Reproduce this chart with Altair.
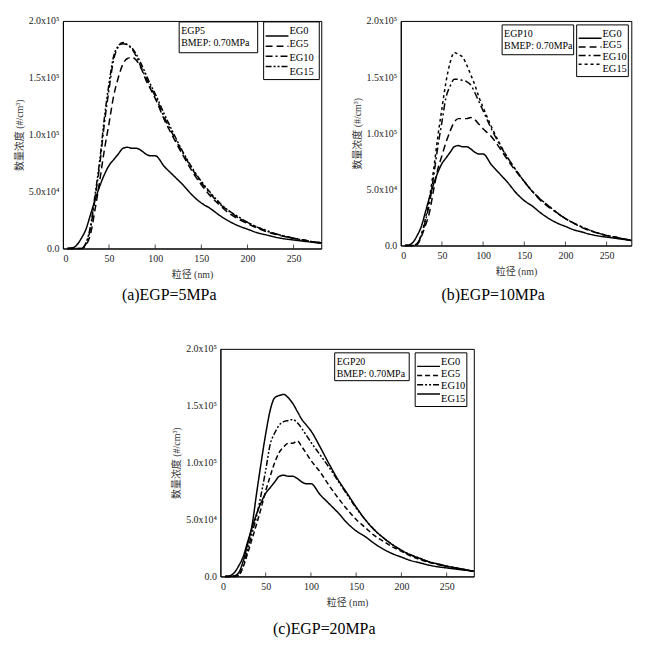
import altair as alt
import pandas as pd

FONT = "Liberation Serif, Noto Sans CJK SC, serif"

# particle size (nm)
SIZES = [5, 10, 15, 20, 25, 30, 35, 40, 45, 50, 55, 60, 65, 70, 75, 80, 85, 90, 95, 100,
         110, 120, 130, 140, 150, 160, 170, 180, 190, 200, 210, 220, 230, 240, 250, 260, 270, 280]

# number concentration, in units of 10^4 #/cm3
EG0 = [0, 0.05, 0.3, 0.9, 1.7, 3.0, 4.3, 5.5, 6.5, 7.3, 7.8, 8.3, 8.8, 8.9, 8.8, 8.8, 8.6, 8.3, 8.15, 8.15,
       7.2, 6.4, 5.6, 4.7, 4.0, 3.5, 2.9, 2.4, 2.0, 1.7, 1.4, 1.2, 1.0, 0.85, 0.75, 0.65, 0.55, 0.45]

A_EG5 = [0, 0, 0, 0, 0.3, 1.3, 3.5, 6.0, 8.7, 11.0, 13.4, 15.0, 16.2, 16.7, 16.8, 16.5, 15.8, 14.8, 14.0, 13.2,
         11.3, 9.7, 8.2, 6.8, 5.6, 4.6, 3.8, 3.1, 2.6, 2.2, 1.8, 1.5, 1.25, 1.05, 0.9, 0.75, 0.6, 0.5]
A_EG10 = [0, 0, 0, 0, 0.4, 1.8, 4.5, 7.4, 11.0, 14.0, 16.6, 17.7, 18.0, 17.9, 17.5, 16.8, 15.9, 15.0, 14.2, 13.4,
          11.5, 9.9, 8.4, 7.0, 5.8, 4.8, 3.9, 3.3, 2.7, 2.3, 1.9, 1.55, 1.3, 1.1, 0.9, 0.75, 0.6, 0.5]
A_EG15 = [0, 0, 0, 0, 0.5, 2.0, 4.8, 7.8, 11.5, 14.5, 16.9, 17.8, 18.1, 17.9, 17.6, 17.0, 16.2, 15.3, 14.4, 13.6,
          11.8, 10.1, 8.5, 7.1, 5.9, 4.9, 4.0, 3.3, 2.8, 2.3, 1.9, 1.6, 1.3, 1.1, 0.9, 0.75, 0.6, 0.5]

B_EG5 = [0, 0, 0, 0.1, 0.8, 1.8, 3.0, 5.0, 6.8, 8.0, 9.2, 10.2, 11.0, 11.3, 11.3, 11.3, 11.4, 11.2, 10.8, 10.4,
         9.7, 8.7, 7.6, 6.6, 5.7, 4.8, 4.0, 3.4, 2.9, 2.4, 2.0, 1.6, 1.3, 1.1, 0.9, 0.75, 0.6, 0.45]
B_EG10 = [0, 0, 0, 0.2, 0.9, 2.2, 3.8, 6.2, 8.8, 11.0, 13.2, 14.2, 14.8, 14.8, 14.7, 14.6, 14.3, 13.6, 12.8, 12.0,
          10.4, 9.0, 7.8, 6.7, 5.7, 4.8, 4.1, 3.5, 2.9, 2.4, 2.0, 1.65, 1.35, 1.1, 0.9, 0.75, 0.6, 0.45]
B_EG15 = [0, 0, 0, 0.2, 1.0, 2.4, 4.3, 6.8, 9.7, 12.2, 14.6, 16.3, 17.2, 17.0, 16.8, 16.1, 15.2, 14.3, 13.2, 12.3,
          10.6, 9.1, 7.8, 6.7, 5.7, 4.8, 4.1, 3.5, 2.9, 2.4, 2.0, 1.65, 1.35, 1.1, 0.9, 0.75, 0.6, 0.45]

C_EG5 = [0, 0, 0, 0.1, 0.8, 2.0, 3.3, 4.6, 6.0, 7.5, 8.8, 10.0, 10.9, 11.4, 11.7, 11.7, 11.9, 11.4, 10.8, 10.2,
         9.2, 8.0, 6.9, 5.9, 5.0, 4.3, 3.6, 3.1, 2.6, 2.2, 1.8, 1.5, 1.25, 1.05, 0.9, 0.75, 0.6, 0.45]
C_EG10 = [0, 0, 0, 0.1, 0.9, 2.3, 3.8, 5.3, 7.2, 9.3, 11.6, 12.6, 13.3, 13.6, 13.7, 13.8, 13.5, 13.0, 12.4, 11.8,
          10.7, 9.6, 8.4, 7.2, 6.0, 5.0, 4.1, 3.4, 2.8, 2.3, 1.9, 1.6, 1.3, 1.1, 0.9, 0.75, 0.6, 0.45]
C_EG15 = [0, 0, 0.05, 0.3, 1.3, 2.8, 4.5, 7.3, 10.0, 12.5, 14.6, 15.7, 15.9, 16.0, 15.7, 15.2, 14.5, 13.8, 13.3, 12.8,
          11.4, 9.9, 8.5, 7.3, 6.1, 5.0, 4.1, 3.4, 2.8, 2.3, 1.9, 1.6, 1.3, 1.1, 0.9, 0.75, 0.6, 0.45]

SERIES = ["EG0", "EG5", "EG10", "EG15"]
XTICKS = [0, 50, 100, 150, 200, 250]
YTICKS = [0, 5, 10, 15, 20]
YLABELS = ["0.0", "5.0x10⁴", "1.0x10⁵", "1.5x10⁵", "2.0x10⁵"]

ylabel_expr = " : ".join(
    f"datum.value == {v} ? '{l}'" for v, l in zip(YTICKS[:-1], YLABELS[:-1])
) + f" : '{YLABELS[-1]}'"


def panel(values, dashes, caption, w, h, note, box, leg, cap_offset):
    rows = []
    for name, vals in zip(SERIES, values):
        for x, v in zip(SIZES, vals):
            rows.append({"size": x, "conc": v, "series": name})
    df = pd.DataFrame(rows)
    dash_scale = alt.Scale(domain=SERIES, range=dashes)

    lines = alt.Chart(df).mark_line(strokeWidth=1.5, color="black", interpolate="monotone").encode(
        x=alt.X("size:Q", scale=alt.Scale(domain=[0, 280], nice=False),
                axis=alt.Axis(values=XTICKS, title="粒径 (nm)", labelPadding=5, titlePadding=6)),
        y=alt.Y("conc:Q", scale=alt.Scale(domain=[0, 20], nice=False),
                axis=alt.Axis(values=YTICKS, labelExpr=ylabel_expr, title="数量浓度 (#/cm³)",
                              labelPadding=4, titlePadding=4)),
        strokeDash=alt.StrokeDash("series:N", scale=dash_scale, legend=None),
    )

    ticks = alt.Chart(pd.DataFrame({"t": XTICKS[1:]})).mark_tick(
        color="black", thickness=1, size=4).encode(
        x=alt.X("t:Q"), y=alt.value(h - 2))

    # annotation box
    nd = pd.DataFrame({"t": [note]})
    rect = alt.Chart(nd).mark_rect(fill="white", stroke="black", strokeWidth=1).encode(
        x=alt.value(box[0]), x2=alt.value(box[1]), y=alt.value(box[2]), y2=alt.value(box[3]))
    text = alt.Chart(nd).mark_text(align="left", baseline="top", lineBreak="\n", lineHeight=12,
                                   font=FONT, fontSize=10, color="black").encode(
        x=alt.value(box[0] + 2), y=alt.value(box[2] + 4), text="t:N")

    # legend box
    ld = pd.DataFrame({"series": SERIES})
    lrect = alt.Chart(pd.DataFrame({"t": [0]})).mark_rect(fill="white", stroke="black", strokeWidth=1).encode(
        x=alt.value(leg[0]), x2=alt.value(leg[1]), y=alt.value(leg[2]), y2=alt.value(leg[3]))
    row_y = alt.Y("series:N", scale=alt.Scale(domain=SERIES, range=[leg[2] + 9, leg[3] - 8],
                                              padding=0), axis=None)
    lrule = alt.Chart(ld).mark_rule(strokeWidth=1.5, color="black").encode(
        x=alt.value(leg[0] + 2), x2=alt.value(leg[0] + 25), y=row_y,
        strokeDash=alt.StrokeDash("series:N", scale=dash_scale, legend=None))
    ltext = alt.Chart(ld).mark_text(align="left", baseline="middle", font=FONT, fontSize=10.5,
                                    color="black").encode(
        x=alt.value(leg[0] + 26), y=row_y, text="series:N")

    return alt.layer(lines, ticks, rect, text, lrect, lrule, ltext).resolve_scale(
        y="independent").properties(
        width=w, height=h,
        title=alt.TitleParams(caption, orient="bottom", font=FONT, fontSize=16, fontWeight="normal",
                              color="black", offset=cap_offset, anchor="middle", frame="bounds"),
    )


SOLID = [1, 0]
DASH = [7, 4]
DASHDOT = [7, 3, 2, 3]
DASHDOTDOT = [6, 2, 2, 2, 2, 2]
SHORTDASH = [3, 3]

pa = panel([EG0, A_EG5, A_EG10, A_EG15], [SOLID, DASH, DASHDOT, DASHDOTDOT],
           "(a)EGP=5MPa", 260, 229, "EGP5\nBMEP: 0.70MPa", (117, 196, 1, 32), (202, 258, 1, 59), 8)
pb = panel([EG0, B_EG5, B_EG10, B_EG15], [SOLID, DASH, DASHDOT, SHORTDASH],
           "(b)EGP=10MPa", 232, 226, "EGP10\nBMEP: 0.70MPa", (102, 174, 4, 34), (177, 229, 4, 56), 11)
pc = panel([EG0, C_EG5, C_EG10, C_EG15], [SOLID, [5, 3], DASHDOTDOT, SOLID],
           "(c)EGP=20MPa", 255, 229, "EGP20\nBMEP: 0.70MPa", (115, 190, 4, 32), (196, 248, 4, 58), 14)

top = alt.hconcat(pa, pb, spacing=26).resolve_scale(strokeDash="independent")

chart = alt.vconcat(top, pc, spacing=39, center=True).resolve_scale(
    strokeDash="independent").properties(
    padding=5, background="white"
).configure_view(stroke="black", strokeWidth=1).configure_axis(
    grid=False, ticks=False, tickSize=0, domainColor="black", domainWidth=1,
    labelFont=FONT, labelFontSize=10, labelColor="#222",
    titleFont=FONT, titleFontSize=10, titleFontWeight="normal", titleColor="#333",
)

chart.save("out.html", embed_options={"renderer": "svg", "actions": False})
